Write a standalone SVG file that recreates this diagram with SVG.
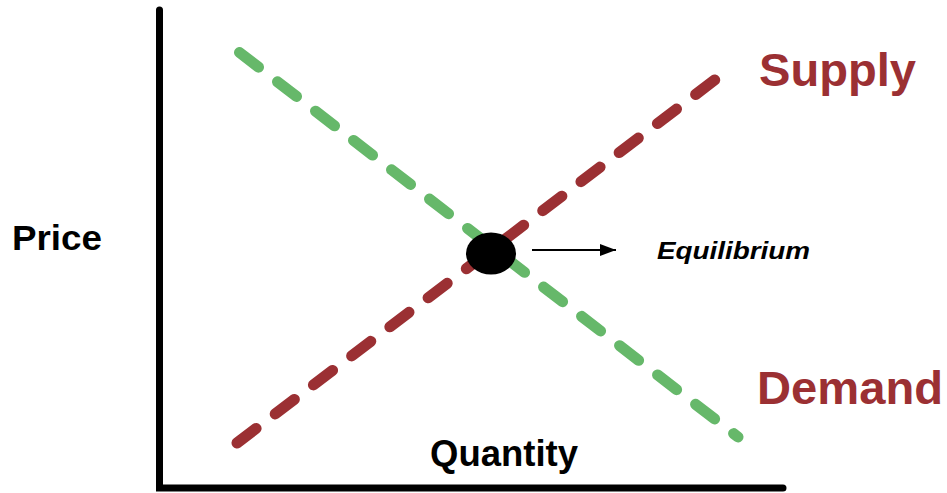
<svg xmlns="http://www.w3.org/2000/svg" width="947" height="493" viewBox="0 0 947 493">
<style>
.lbl{font-family:"Liberation Sans",Arial,sans-serif;font-weight:bold;fill:#000}
.curve{fill:none;stroke-width:11;stroke-linecap:round;stroke-dasharray:24 24}
.red{fill:#9b3033}
</style>
<defs>
<marker id="arr" markerWidth="16" markerHeight="14" refX="16" refY="7" orient="auto" markerUnits="userSpaceOnUse">
<polygon points="0,1 16,7 0,13" fill="#000"/>
</marker>
</defs>
<rect width="947" height="493" fill="#fff"/>
<g id="axes">
<path d="M159.5,10 V488 H783" fill="none" stroke="#000" stroke-width="7" stroke-linecap="round" stroke-linejoin="miter"/>
</g>
<g id="connectors">
<line id="demand-curve" class="curve" x1="239.5" y1="52.5" x2="738" y2="437" stroke="#66b86a"/>
<line id="supply-curve" class="curve" x1="237" y1="443" x2="716" y2="79" stroke="#9b3033"/>
<line id="eq-arrow" x1="532" y1="250" x2="616" y2="250" stroke="#000" stroke-width="2" marker-end="url(#arr)"/>
</g>
<g id="equilibrium-point">
<ellipse cx="491" cy="253.5" rx="25" ry="21" fill="#000"/>
</g>
<g id="price-label"><text class="lbl" x="12" y="250" font-size="35" textLength="90" lengthAdjust="spacingAndGlyphs">Price</text></g>
<g id="quantity-label"><text class="lbl" x="430" y="466" font-size="36" textLength="148" lengthAdjust="spacingAndGlyphs">Quantity</text></g>
<g id="supply-label"><text class="lbl red" x="759" y="86" font-size="47" textLength="157" lengthAdjust="spacingAndGlyphs">Supply</text></g>
<g id="demand-label"><text class="lbl red" x="757" y="404" font-size="47" textLength="186" lengthAdjust="spacingAndGlyphs">Demand</text></g>
<g id="equilibrium-label"><text class="lbl" x="657" y="259" font-size="23" font-style="italic" textLength="153" lengthAdjust="spacingAndGlyphs">Equilibrium</text></g>
</svg>
